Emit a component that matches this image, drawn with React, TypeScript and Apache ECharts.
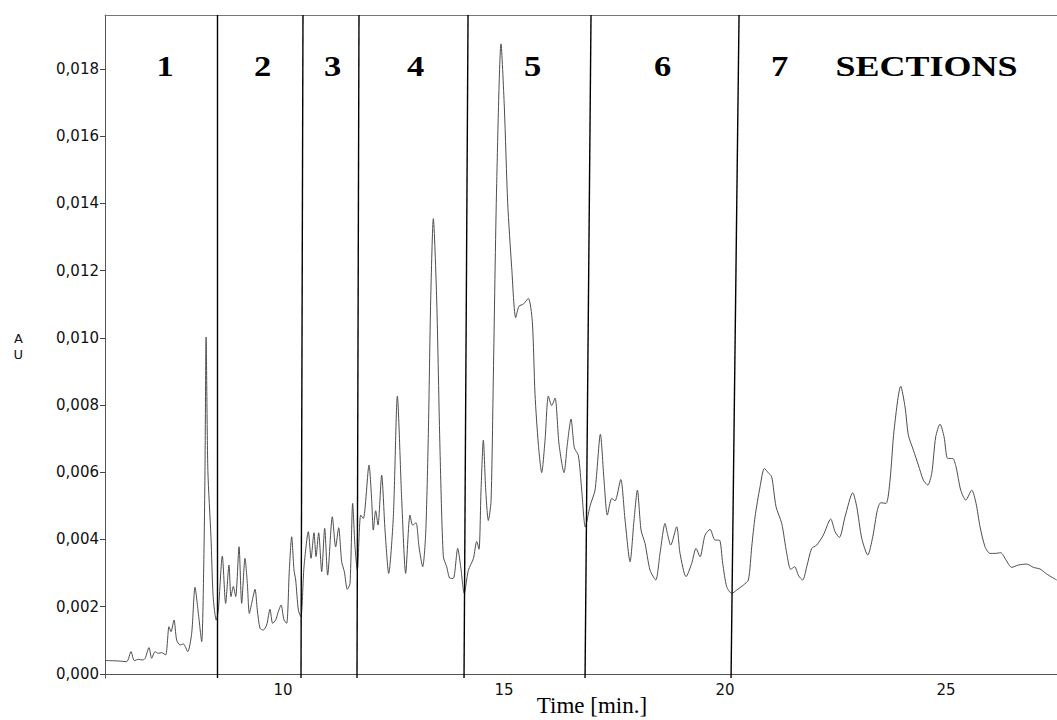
import React, { useEffect, useRef } from "react";
import * as echarts from "echarts";

// Retention time (min) and absorbance (AU)
const TIME = [
  5.98, 6.275, 6.463, 6.561, 6.636, 6.727, 6.818, 6.878, 6.968, 7.029, 7.104, 7.179, 7.255, 7.345,
  7.421, 7.466, 7.534, 7.594, 7.67, 7.745, 7.843, 7.934, 8.009, 8.085, 8.16, 8.205, 8.235, 8.26,
  8.3, 8.37, 8.42, 8.49, 8.537, 8.627, 8.702, 8.778, 8.823, 8.876, 8.929, 9.005, 9.065, 9.14,
  9.193, 9.238, 9.291, 9.367, 9.419, 9.48, 9.555, 9.63, 9.706, 9.766, 9.834, 9.894, 9.955, 10.023,
  10.083, 10.143, 10.196, 10.249, 10.287, 10.347, 10.405, 10.475, 10.573, 10.634, 10.701, 10.747,
  10.807, 10.875, 10.943, 11.01, 11.116, 11.191, 11.259, 11.327, 11.388, 11.455, 11.516, 11.576,
  11.629, 11.681, 11.757, 11.817, 11.946, 12.006, 12.043, 12.096, 12.149, 12.232, 12.308, 12.391,
  12.496, 12.587, 12.686, 12.775, 12.873, 12.933, 13.009, 13.077, 13.16, 13.228, 13.288, 13.341,
  13.401, 13.477, 13.552, 13.627, 13.703, 13.778, 13.853, 13.952, 14.02, 14.1, 14.193, 14.306,
  14.382, 14.434, 14.48, 14.532, 14.586, 14.645, 14.706, 14.759, 14.834, 14.932, 15.007, 15.083,
  15.174, 15.264, 15.339, 15.437, 15.55, 15.64, 15.701, 15.776, 15.852, 15.928, 16.003, 16.079,
  16.154, 16.244, 16.357, 16.433, 16.516, 16.591, 16.682, 16.757, 16.84, 16.946, 17.059, 17.18,
  17.262, 17.338, 17.436, 17.511, 17.64, 17.738, 17.851, 17.941, 18.017, 18.1, 18.19, 18.303,
  18.432, 18.529, 18.643, 18.695, 18.771, 18.906, 18.982, 19.118, 19.246, 19.344, 19.434, 19.548,
  19.661, 19.774, 19.872, 19.947, 20.038, 20.151, 20.264, 20.415, 20.528, 20.604, 20.679, 20.792,
  20.89, 20.98, 21.056, 21.154, 21.282, 21.396, 21.486, 21.574, 21.665, 21.757, 21.848, 21.961,
  22.074, 22.224, 22.391, 22.489, 22.587, 22.715, 22.889, 22.98, 23.093, 23.229, 23.342, 23.446,
  23.522, 23.643, 23.733, 23.824, 23.975, 24.072, 24.148, 24.261, 24.374, 24.487, 24.585, 24.676,
  24.766, 24.864, 24.955, 25.038, 25.151, 25.226, 25.332, 25.446, 25.581, 25.679, 25.769, 25.882,
  25.995, 26.109, 26.237, 26.357, 26.486, 26.636, 26.825, 26.976, 27.127, 27.278, 27.504,
];

const AU = [
  0.0004, 0.000386, 0.000366, 0.000664, 0.000396, 0.000436, 0.000416, 0.000456, 0.000783, 0.000466,
  0.000664, 0.000614, 0.000634, 0.000565, 0.001407, 0.001258, 0.001605, 0.00101, 0.000862, 0.000892,
  0.000664, 0.00121, 0.002576, 0.001803, 0.000961, 0.003091, 0.00606, 0.01002, 0.00606, 0.00408,
  0.0023, 0.0016, 0.0019, 0.003507, 0.0021, 0.00324, 0.0023, 0.0026, 0.0023, 0.003784, 0.0021,
  0.003438, 0.002695, 0.0018, 0.0021, 0.002517, 0.0019, 0.001357, 0.001308, 0.001456, 0.001922,
  0.001506, 0.001605, 0.001852, 0.002051, 0.001605, 0.001506, 0.00309, 0.00408, 0.00309, 0.002794,
  0.0019, 0.0017, 0.00319, 0.00423, 0.00344, 0.0042, 0.00349, 0.0042, 0.00304, 0.00433, 0.00294,
  0.004676, 0.00378, 0.00435, 0.00334, 0.00304, 0.002516, 0.002695, 0.005073, 0.00378, 0.00309,
  0.004725, 0.004626, 0.006211, 0.005171, 0.00428, 0.004854, 0.004428, 0.005914, 0.00428, 0.002992,
  0.004676, 0.008262, 0.005171, 0.002992, 0.004725, 0.004428, 0.004497, 0.00378, 0.00319, 0.00418,
  0.007153, 0.01112, 0.013542, 0.01112, 0.006657, 0.00349, 0.00319, 0.002843, 0.002843, 0.003735,
  0.00319, 0.0024, 0.003085, 0.003427, 0.003938, 0.00371, 0.005474, 0.006954, 0.005474, 0.004565,
  0.005133, 0.008892, 0.014584, 0.01874, 0.016863, 0.014016, 0.012081, 0.0106, 0.01094, 0.011,
  0.01117, 0.010485, 0.008322, 0.006841, 0.005989, 0.006954, 0.008265, 0.00798, 0.008208, 0.006841,
  0.005989, 0.006841, 0.007582, 0.006728, 0.0065, 0.005474, 0.00437, 0.005, 0.00547, 0.00713,
  0.005766, 0.004725, 0.005221, 0.005151, 0.005785, 0.004577, 0.003339, 0.004577, 0.005468, 0.00428,
  0.003883, 0.003091, 0.002794, 0.003586, 0.004478, 0.004181, 0.003834, 0.004378, 0.003586, 0.002893,
  0.00329, 0.003735, 0.003487, 0.004131, 0.0043, 0.003982, 0.003982, 0.00329, 0.002595, 0.002397,
  0.002496, 0.002645, 0.002794, 0.003784, 0.004676, 0.005567, 0.006112, 0.005983, 0.005864, 0.004973,
  0.004478, 0.003586, 0.003111, 0.00319, 0.002918, 0.002794, 0.00319, 0.003735, 0.003834, 0.004131,
  0.004607, 0.00423, 0.004062, 0.004676, 0.005389, 0.004973, 0.004032, 0.003537, 0.004082, 0.004874,
  0.005092, 0.005072, 0.005766, 0.007252, 0.008559, 0.007945, 0.007103, 0.006657, 0.006212, 0.005766,
  0.005617, 0.005964, 0.007053, 0.00743, 0.007053, 0.00641, 0.00641, 0.006162, 0.005468, 0.005171,
  0.005468, 0.005072, 0.004378, 0.003784, 0.003586, 0.003586, 0.003606, 0.003388, 0.00317, 0.00324,
  0.003269, 0.00317, 0.003121, 0.002972, 0.002794,
];

// Section boundaries (min) where each drawn line meets the bottom and the top of the plot
const SECTION_BOUND_BOTTOM = [8.507, 10.407, 11.674, 14.095, 16.833, 20.136];
const SECTION_BOUND_TOP = [8.507, 10.452, 11.719, 14.186, 16.968, 20.317];
const SECTION_NAMES = ["1", "2", "3", "4", "5", "6", "7"];
const SECTIONS_TITLE = "SECTIONS";

const X_TICKS = [10, 15, 20, 25];
const Y_TICKS = [0, 0.002, 0.004, 0.006, 0.008, 0.01, 0.012, 0.014, 0.016, 0.018];

const X_MIN = 5.973;
const X_MAX = 27.51;
const Y_MIN = -0.00012;
const Y_MAX = 0.0196;

// layout of the section captions (pixels)
const SECTION_LABEL_X = [165, 262.5, 332.5, 415.5, 532.5, 662.5, 779.5];
const LABEL_Y = 66;

export default function App() {
  const ref = useRef<HTMLDivElement>(null);

  useEffect(() => {
    if (!ref.current) return;
    const chart = echarts.init(ref.current, undefined, { renderer: "svg" });
    const data = TIME.map((t, i) => [t, AU[i]]);
    const labelFont = {
      fontFamily: "Liberation Serif",
      fontWeight: "bold" as const,
      fill: "#000",
      textAlign: "center" as const,
      textVerticalAlign: "middle" as const,
    };
    const graphics: any[] = SECTION_NAMES.map((name, i) => ({
      type: "text",
      x: SECTION_LABEL_X[i],
      y: LABEL_Y,
      scaleX: 1.15,
      silent: true,
      style: { ...labelFont, text: name, fontSize: 30 },
    }));
    graphics.push({
      type: "text",
      x: 926.5,
      y: LABEL_Y - 1,
      scaleX: 1.18,
      silent: true,
      style: { ...labelFont, text: SECTIONS_TITLE, fontSize: 30.5 },
    });

    chart.setOption({
      animation: false,
      backgroundColor: "#ffffff",
      grid: { left: 105, right: 0, top: 15, bottom: 42, outerBoundsMode: "none" },
      xAxis: [
        {
          type: "value",
          min: X_MIN,
          max: X_MAX,
          position: "bottom",
          axisLine: { show: true, lineStyle: { color: "#555", width: 1 } },
          axisTick: { show: false, customValues: X_TICKS },
          splitLine: { show: false },
          axisLabel: {
            customValues: X_TICKS,
            formatter: (v: number) => String(v),
            fontFamily: "DejaVu Sans",
            fontSize: 15,
            color: "#111",
            margin: 4,
          },
          name: "Time [min.]",
          nameLocation: "middle",
          nameGap: 16,
          nameMoveOverlap: false,
          nameTextStyle: {
            fontFamily: "Liberation Serif",
            fontSize: 23,
            color: "#000",
            padding: [0, 0, 0, 22],
          },
        },
        {
          type: "value",
          min: X_MIN,
          max: X_MAX,
          position: "top",
          axisLine: { show: true, lineStyle: { color: "#777", width: 1 } },
          axisTick: { show: false },
          axisLabel: { show: false },
          splitLine: { show: false },
        },
      ],
      yAxis: {
        type: "value",
        min: Y_MIN,
        max: Y_MAX,
        axisLine: { show: true, lineStyle: { color: "#555", width: 1 } },
        axisTick: { show: true, length: 5, customValues: Y_TICKS, lineStyle: { color: "#444" } },
        splitLine: { show: false },
        axisLabel: {
          customValues: Y_TICKS,
          formatter: (v: number) => v.toFixed(3).replace(".", ","),
          fontFamily: "DejaVu Sans",
          fontSize: 15,
          color: "#111",
          margin: 6,
        },
        name: "A\nU",
        nameLocation: "middle",
        nameRotate: 0,
        nameGap: 82,
        nameMoveOverlap: false,
        nameTextStyle: {
          fontFamily: "DejaVu Sans",
          fontSize: 13,
          lineHeight: 16,
          color: "#111",
        },
      },
      graphic: graphics,
      series: [
        {
          type: "line",
          data,
          xAxisIndex: 0,
          showSymbol: false,
          symbol: "none",
          smooth: 0.25,
          lineStyle: { color: "#4d4d4d", width: 1 },
          silent: true,
          markLine: {
            silent: true,
            symbol: "none",
            label: { show: false },
            lineStyle: { color: "#000", width: 1.4, type: "solid" },
            data: SECTION_BOUND_BOTTOM.map((b, i) => [
              { coord: [b, Y_MIN] },
              { coord: [SECTION_BOUND_TOP[i], Y_MAX] },
            ]),
          },
        },
      ],
    });
    return () => chart.dispose();
  }, []);

  return (
    <div
      ref={ref}
      style={{ position: "fixed", left: 0, top: 0, width: 1057, height: 720, background: "#fff" }}
    />
  );
}
